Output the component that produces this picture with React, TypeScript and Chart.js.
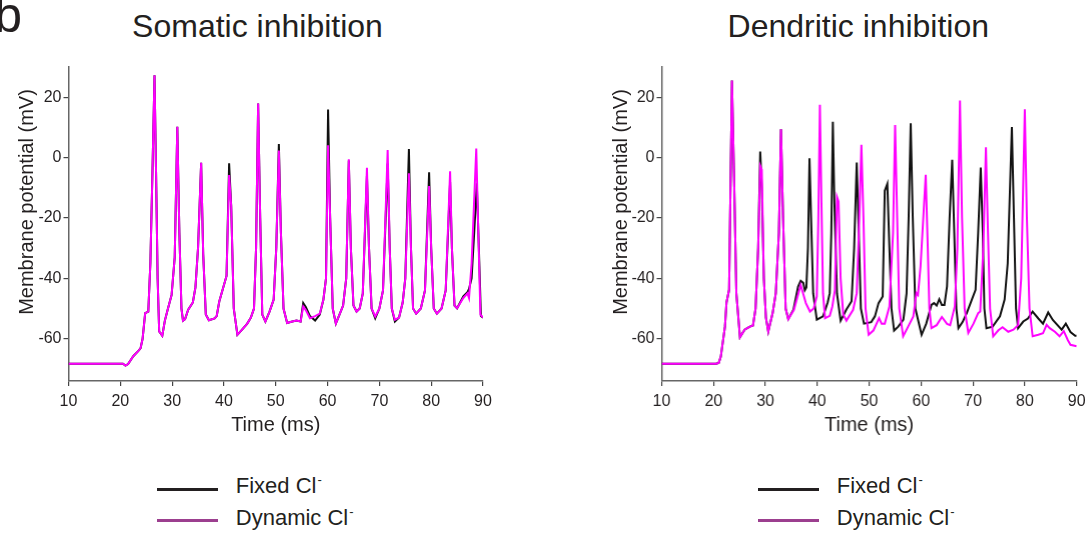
import React, { useEffect, useRef } from "react";
import { Chart, registerables } from "chart.js";

Chart.register(...registerables);

// ---------- data ----------
const xTicks = [10, 20, 30, 40, 50, 60, 70, 80, 90];
const yTicks = [-60, -40, -20, 0, 20];

// Somatic inhibition – Dynamic Cl-
const somaDynT = [10, 20.5, 21.0, 21.5, 22.5, 23.4, 23.9, 24.3, 24.8, 25.4, 25.8, 26.2, 26.6, 26.9, 27.2, 27.5, 28.1, 28.6, 29.2, 29.9, 30.5, 31.0, 31.4, 31.8, 32.1, 32.5, 33.1, 34.0, 34.5, 35.0, 35.6, 36.0, 36.5, 37.1, 38.2, 38.6, 39.1, 40.5, 41.0, 41.4, 41.9, 42.6, 43.5, 44.5, 45.2, 45.8, 46.2, 46.6, 47.0, 47.4, 48.0, 48.8, 49.6, 50.1, 50.6, 51.0, 51.5, 52.2, 53.0, 54.0, 54.8, 55.3, 55.8, 56.6, 57.6, 58.5, 59.2, 59.7, 60.1, 60.5, 61.0, 61.6, 62.3, 63.0, 63.6, 64.1, 64.5, 65.0, 65.6, 66.2, 66.8, 67.6, 68.0, 68.5, 69.2, 70.0, 70.7, 71.6, 72.0, 72.4, 73.0, 73.8, 74.5, 75.0, 75.7, 76.1, 76.5, 77.1, 78.0, 78.8, 79.6, 80.0, 80.5, 81.1, 82.0, 82.8, 83.65, 84.0, 84.5, 85.0, 86.2, 87.0, 87.3, 87.8, 88.7, 89.1, 89.5, 90];
const somaDynV = [-68.3, -68.3, -68.9, -68.4, -65.8, -64.2, -63.2, -60, -51.5, -51, -35, -5, 27.3, -5, -40, -57.6, -59, -54, -50, -45.5, -33, 10.2, -25, -50, -54, -53.5, -50.4, -48, -43, -30, -1.7, -32, -52, -53.9, -53.3, -52.5, -47.7, -39.2, -5.8, -16, -50, -58.7, -57, -55, -53, -50, -30, 17.9, -20, -52, -54.3, -51, -47, -30, 2.3, -25, -50, -54.8, -54.4, -54, -54.3, -49.3, -50.5, -53.2, -52.5, -51.7, -47, -40, 4.1, -20, -50, -55, -52, -49, -40, -0.6, -30, -49, -51, -50, -45, -3.4, -30, -50, -52.6, -50, -44, 2.5, -30, -50, -53.7, -53, -48, -40, -5.2, -30, -50, -51.7, -50, -44, -9.4, -30, -50, -51.7, -50, -44, -4.5, -30, -49, -49.9, -46.5, -45, -46.5, -35, 3.0, -25, -52, -53];

// Somatic inhibition – Fixed Cl-
const somaFixT = [10, 20.5, 21.0, 21.5, 22.5, 23.4, 23.9, 24.3, 24.8, 25.4, 25.8, 26.2, 26.6, 26.9, 27.2, 27.5, 28.1, 28.6, 29.2, 29.9, 30.5, 31.0, 31.4, 31.8, 32.1, 32.5, 33.1, 34.0, 34.5, 35.0, 35.6, 36.0, 36.5, 37.1, 38.2, 38.6, 39.1, 40.5, 41.0, 41.4, 41.9, 42.6, 43.5, 44.5, 45.2, 45.8, 46.2, 46.6, 47.0, 47.4, 48.0, 48.8, 49.6, 50.1, 50.6, 51.0, 51.5, 52.2, 53.0, 54.0, 54.8, 55.3, 55.8, 56.6, 57.6, 58.5, 59.2, 59.7, 60.1, 60.5, 61.0, 61.6, 62.3, 63.0, 63.6, 64.1, 64.5, 65.0, 65.6, 66.2, 66.8, 67.6, 68.0, 68.5, 69.2, 70.0, 70.7, 71.6, 72.0, 72.4, 73.0, 73.8, 74.5, 75.0, 75.7, 76.1, 76.5, 77.1, 78.0, 78.8, 79.6, 80.0, 80.5, 81.1, 82.0, 82.8, 83.65, 84.0, 84.5, 85.0, 86.2, 87.0, 87.3, 87.8, 88.3, 88.8, 89.2, 89.6, 90];
const somaFixV = [-68.3, -68.3, -68.9, -68.4, -65.8, -64.2, -63.2, -60, -51.5, -51, -35, -5, 27.3, -5, -40, -57.6, -59, -54, -50, -45.5, -33, 10.2, -25, -50, -54, -53.5, -50.4, -48, -43, -30, -1.7, -32, -52, -53.9, -53.3, -52.5, -47.7, -39.2, -1.9, -16, -50, -58.7, -57, -55, -53, -50, -30, 17.9, -20, -52, -54.3, -51, -47, -30, 4.5, -25, -50, -54.8, -54.4, -54, -54.3, -48.2, -49.5, -52.5, -54, -52, -47, -40, 15.9, -20, -50, -55, -52, -49, -40, -1, -30, -49, -51, -50, -45, -6, -30, -50, -53.2, -50, -44, -2, -30, -50, -54.3, -53, -48, -40, 2.8, -30, -50, -51.7, -50, -44, -4.9, -30, -50, -51.7, -50, -44, -8, -30, -49, -49.9, -46, -44.6, -43.5, -40, -25, -8.5, -30, -52.5, -53];

// Dendritic inhibition – Dynamic Cl-
const dendDynT = [10, 20.5, 21.0, 21.4, 22.2, 22.5, 23.0, 23.55, 24.0, 24.4, 25.1, 26.0, 27.0, 27.6, 28.1, 28.6, 29.0, 29.3, 29.7, 30.1, 30.55, 31.4, 32.0, 32.6, 33.0, 33.4, 33.9, 34.4, 35.5, 36.8, 37.8, 38.6, 39.3, 39.9, 40.2, 40.5, 40.8, 41.1, 41.5, 42.4, 42.9, 43.4, 43.8, 44.1, 44.5, 45.0, 45.6, 46.9, 47.6, 48.1, 48.5, 48.9, 49.3, 49.9, 50.8, 51.9, 52.4, 53.0, 53.9, 54.6, 55.0, 55.4, 55.8, 56.55, 57.5, 58.5, 59.1, 59.4, 59.9, 60.9, 61.3, 61.6, 62.0, 63.0, 64.0, 65.0, 65.6, 66.5, 67.0, 67.5, 67.9, 68.4, 69.1, 70.1, 71.0, 71.4, 72.0, 72.5, 72.9, 73.3, 73.9, 74.9, 75.7, 76.8, 77.8, 78.7, 79.3, 80.0, 80.4, 80.9, 81.5, 82.6, 83.5, 84.2, 84.8, 85.8, 86.7, 87.5, 88.3, 88.8, 90];
const dendDynV = [-68.3, -68.3, -68, -65.9, -56, -48, -43.8, 25.5, -10, -45, -59.5, -57, -56, -55.6, -50, -30, -2.75, -4, -40, -53, -57.6, -51.5, -45, -25, 9.4, -20, -50, -53.5, -50.4, -42.2, -48.2, -51, -50, -46, -20, 17.5, -15, -45, -53.2, -52.4, -49.3, -43.8, -13, -14.5, -40, -52, -54, -50.4, -44.9, -20, 4.2, -20, -50, -58.7, -57.3, -53.2, -55, -55, -49.3, -25, 10.8, -20, -50, -59.2, -56, -52.6, -44.9, -45.5, -36, -5.7, -30, -50, -56.5, -55.5, -52.8, -55.1, -55.5, -49.3, -30, 18.9, -20, -50, -58.1, -55, -51.5, -51, -30, 3.4, -25, -50, -59.2, -57.2, -56.2, -57.7, -57, -55.5, -40, 16, -20, -50, -59.2, -58.7, -58.2, -55.4, -56.5, -57.7, -59.2, -57.5, -60.5, -62, -62.5];

// Dendritic inhibition – Fixed Cl-
const dendFixT = [10, 20.5, 21.0, 21.4, 22.2, 22.5, 23.0, 23.55, 24.0, 24.4, 25.1, 26.0, 27.0, 27.6, 28.1, 28.6, 29.0, 29.3, 29.7, 30.1, 30.55, 31.4, 32.0, 32.6, 33.0, 33.4, 33.9, 34.4, 35.4, 36.3, 36.8, 37.3, 37.6, 37.9, 38.2, 38.5, 38.8, 39.2, 39.9, 41.1, 42.0, 42.4, 42.7, 43.0, 43.3, 43.8, 44.5, 45.6, 46.6, 47.1, 47.6, 48.0, 48.4, 49.0, 50.4, 51.1, 51.8, 52.6, 53.0, 53.5, 53.9, 54.3, 54.8, 55.6, 56.6, 57.2, 57.6, 58.0, 58.4, 58.9, 60.1, 61.0, 62.0, 62.5, 63.0, 63.5, 64.0, 64.5, 65.0, 65.5, 66.0, 66.4, 66.8, 67.2, 68.0, 68.8, 69.8, 70.5, 71.0, 71.5, 71.9, 72.2, 72.6, 73.8, 75.2, 76.1, 76.7, 77.5, 77.9, 78.3, 78.7, 79.7, 80.6, 81.5, 82.6, 83.5, 84.5, 85.4, 87.1, 87.9, 88.8, 89.7, 90];
const dendFixV = [-68.3, -68.3, -68, -65.9, -56, -48, -43.8, 25.5, -10, -45, -59.5, -57, -56, -55.6, -50, -30, 2.0, -10, -40, -53, -57.6, -51.5, -45, -25, 9.4, -20, -50, -53.5, -50.4, -42.7, -40.8, -41.5, -43.9, -43, -30, -0.2, -20, -45, -53.7, -52.6, -48, -44.9, -25, 11.9, -15, -45, -54, -50.3, -47.6, -30, -1.6, -25, -50, -55, -54.5, -52.6, -48.2, -46, -11, -8.7, -30, -50, -57.3, -56, -53.7, -45, -20, 11.4, -20, -50, -58.7, -55, -48.8, -48.2, -49, -46.9, -48.8, -48.8, -42.7, -20, -0.75, -25, -50, -56.5, -54.5, -51.5, -47, -43.8, -25, -3.3, -25, -50, -56.5, -56, -52.6, -47, -35, 10.1, -20, -50, -56.5, -54.3, -53.3, -51, -53.3, -55, -51.3, -53.8, -57, -55, -57.8, -59, -59];

// ---------- styling ----------
const FONT = '"Liberation Sans", Arial, Helvetica, sans-serif';
const INK = "#231f20";
const MAGENTA = "#ff00ff";
const BLACK = "#111111";
const LEGEND_PURPLE = "#9c3f8f";

const CANVAS_H = 450;
const PLOT_TOP = 67;
const PLOT_BOTTOM = 381;
const YAXIS_W = 68.5;

type PanelProps = {
  left: number;
  width: number;
  plotRight: number;
  fixT: number[];
  fixV: number[];
  dynT: number[];
  dynV: number[];
};

function Panel({ left, width, plotRight, fixT, fixV, dynT, dynV }: PanelProps) {
  const ref = useRef<HTMLCanvasElement | null>(null);
  useEffect(() => {
    if (!ref.current) return;
    const chart = new Chart(ref.current, {
      type: "line",
      data: {
        datasets: [
          {
            label: "Dynamic Cl-",
            data: dynT.map((t, i) => ({ x: t, y: dynV[i] })),
            borderColor: MAGENTA,
            backgroundColor: MAGENTA,
            borderWidth: 2,
            pointRadius: 0,
            tension: 0,
            order: 0,
          },
          {
            label: "Fixed Cl-",
            data: fixT.map((t, i) => ({ x: t, y: fixV[i] })),
            borderColor: BLACK,
            backgroundColor: BLACK,
            borderWidth: 2,
            pointRadius: 0,
            tension: 0,
            order: 1,
          },
        ],
      },
      options: {
        animation: false,
        responsive: false,
        maintainAspectRatio: false,
        layout: {
          padding: { left: 0, right: width - plotRight, top: PLOT_TOP, bottom: 0 },
        },
        plugins: {
          legend: { display: false },
          tooltip: { enabled: false },
          title: { display: false },
        },
        scales: {
          x: {
            type: "linear",
            min: 10,
            max: 90,
            afterBuildTicks: (s: any) => {
              s.ticks = xTicks.map((v) => ({ value: v }));
            },
            afterFit: (s: any) => {
              s.height = CANVAS_H - PLOT_BOTTOM;
            },
            grid: {
              drawOnChartArea: false,
              drawTicks: true,
              tickLength: 5,
              color: "#444",
              lineWidth: 1.2,
            },
            border: { display: true, color: "#666", width: 1.5 },
            ticks: {
              font: { family: FONT, size: 16 },
              color: INK,
              padding: 6,
              maxRotation: 0,
              autoSkip: false,
            },
            title: {
              display: true,
              text: "Time (ms)",
              font: { family: FONT, size: 20 },
              color: INK,
              padding: { top: 0, bottom: 13 },
            },
          },
          y: {
            type: "linear",
            min: -74,
            max: 30,
            afterBuildTicks: (s: any) => {
              s.ticks = yTicks.map((v) => ({ value: v }));
            },
            afterFit: (s: any) => {
              s.width = YAXIS_W;
            },
            grid: {
              drawOnChartArea: false,
              drawTicks: true,
              tickLength: 5,
              color: "#444",
              lineWidth: 1.2,
            },
            border: { display: true, color: "#666", width: 1.5 },
            ticks: {
              font: { family: FONT, size: 16 },
              color: INK,
              padding: 2,
              autoSkip: false,
            },
            title: { display: false },
          },
        },
      },
    } as any);
    return () => chart.destroy();
  }, []);
  return (
    <canvas
      ref={ref}
      width={width}
      height={CANVAS_H}
      style={{ position: "absolute", left, top: 0, width, height: CANVAS_H }}
    />
  );
}

function Legend({ left }: { left: number }) {
  const txt: React.CSSProperties = {
    position: "absolute",
    left: left + 78.5,
    fontFamily: FONT,
    fontSize: 22,
    lineHeight: "24px",
    color: INK,
    whiteSpace: "nowrap",
  };
  const sup: React.CSSProperties = {
    fontSize: 13,
    position: "relative",
    top: -9,
    marginLeft: 1,
  };
  return (
    <>
      <div style={{ position: "absolute", left, top: 487.5, width: 61, height: 3, background: INK }} />
      <div style={{ ...txt, top: 474.2 }}>
        Fixed Cl<span style={sup}>-</span>
      </div>
      <div style={{ position: "absolute", left, top: 518.5, width: 61, height: 3, background: LEGEND_PURPLE }} />
      <div style={{ ...txt, top: 506.4 }}>
        Dynamic Cl<span style={sup}>-</span>
      </div>
    </>
  );
}

function Title({ cx, text }: { cx: number; text: string }) {
  return (
    <div
      style={{
        position: "absolute",
        left: cx - 200,
        top: 6.2,
        width: 400,
        textAlign: "center",
        fontFamily: FONT,
        fontSize: 32,
        lineHeight: "40px",
        color: INK,
        whiteSpace: "nowrap",
      }}
    >
      {text}
    </div>
  );
}

function YTitle({ cx, cy }: { cx: number; cy: number }) {
  return (
    <div
      style={{
        position: "absolute",
        left: cx - 150,
        top: cy - 12,
        width: 300,
        height: 24,
        textAlign: "center",
        fontFamily: FONT,
        fontSize: 20,
        lineHeight: "24px",
        color: INK,
        whiteSpace: "nowrap",
        transform: "rotate(-90deg)",
        transformOrigin: "50% 50%",
      }}
    >
      Membrane potential (mV)
    </div>
  );
}

export default function App() {
  return (
    <div
      style={{
        position: "absolute",
        left: 0,
        top: 0,
        width: 1092,
        height: 535,
        overflow: "hidden",
        background: "#ffffff",
      }}
    >
      <div
        style={{
          position: "absolute",
          left: -5.75,
          top: -10.3,
          fontFamily: FONT,
          fontSize: 50,
          lineHeight: "50px",
          color: INK,
        }}
      >
        b
      </div>
      <Title cx={257.5} text="Somatic inhibition" />
      <Title cx={858.3} text="Dendritic inhibition" />
      <Panel left={0} width={546} plotRight={483} fixT={somaFixT} fixV={somaFixV} dynT={somaDynT} dynV={somaDynV} />
      <Panel left={593.2} width={498.8} plotRight={498.8 - 15.3} fixT={dendFixT} fixV={dendFixV} dynT={dendDynT} dynV={dendDynV} />
      <YTitle cx={26.4} cy={201.5} />
      <YTitle cx={619.6} cy={201.5} />
      <Legend left={157.3} />
      <Legend left={758.3} />
    </div>
  );
}
